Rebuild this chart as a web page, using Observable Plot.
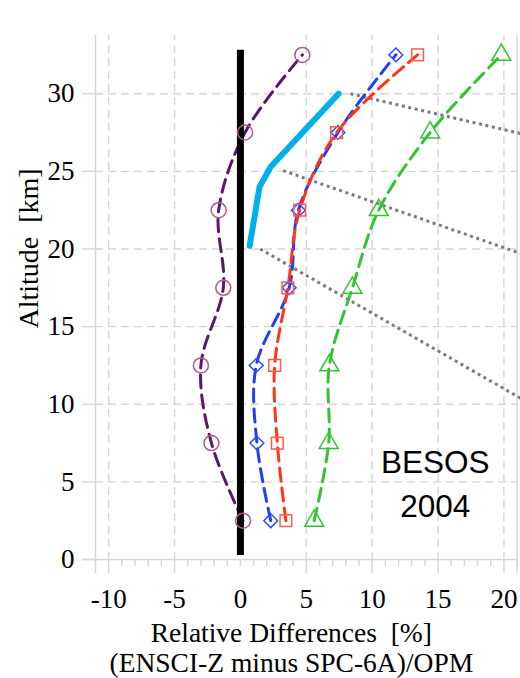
<!DOCTYPE html>
<html>
<head>
<meta charset="utf-8">
<script src="https://cdn.jsdelivr.net/npm/d3@7"></script>
<script src="https://cdn.jsdelivr.net/npm/@observablehq/plot@0.6"></script>
<style>
  html, body { margin: 0; padding: 0; background: #fff; }
  #chart svg { display: block; }
  #chart svg text { white-space: pre; }
</style>
</head>
<body>
<div id="chart"></div>
<script>
// Altitude bins (km) of the averaged profiles
const altitude = [2.5, 7.5, 12.5, 17.5, 22.5, 27.5, 32.5];

// Relative differences (%) per sonde configuration
const circleDiff  = [0.2, -2.2, -3.0, -1.3, -1.65, 0.35, 4.7];
const diamondDiff = [2.3, 1.25, 1.2, 3.7, 4.4, 7.4, 11.8];
const squareDiff  = [3.45, 2.8, 2.6, 3.6, 4.5, 7.3, 13.45];
const triangleDiff = [5.6, 6.7, 6.75, 8.5, 10.5, 14.4, 19.8];

// Thick cyan reference profile
const cyanDiff = [0.7, 1.45, 2.3, 7.45];
const cyanAlt  = [20.2, 24.0, 25.3, 30.0];

// Zero line extent (km)
const zeroAlt = [0.25, 32.8];

// Dotted guide lines (start / end)
const guideX1 = [8.35, 3.24, 1.5];
const guideY1 = [30.0, 25.05, 20.0];
const guideX2 = [21.3, 21.3, 21.3];
const guideY2 = [27.43, 19.7, 10.37];

// Axes
const xTicks = [-10, -5, 0, 5, 10, 15, 20];
const yTicks = [0, 5, 10, 15, 20, 25, 30];
const xMinorTicks = [-11, -10, -9, -8, -7, -6, -5, -4, -3, -2, -1, 0, 1, 2, 3, 4, 5, 6, 7, 8, 9, 10,
  11, 12, 13, 14, 15, 16, 17, 18, 19, 20, 21];
const xGrid = [-10, -5, 5, 10, 15, 20];
const yGrid = [5, 10, 15, 20, 25, 30];

const xTitle = "Relative Differences  [%]";
const xSubtitle = "(ENSCI-Z minus SPC-6A)/OPM";
const yTitle = "Altitude  [km]";
const campaign = "BESOS\n2004";

const series = [
  {key: "circle",   values: circleDiff,   line: "#5a176c", marker: "#b5588c", symbol: "circle",   r: 7.5},
  {key: "diamond",  values: diamondDiff,  line: "#1f3cff", marker: "#2d4cff", symbol: "diamond2", r: 6.2},
  {key: "square",   values: squareDiff,   line: "#ff3515", marker: "#ff5a50", symbol: "square",   r: 6.6},
  {key: "triangle", values: triangleDiff, line: "#33c333", marker: "#33c333", symbol: "triangle", r: 7}
];

const rowsFor = s => altitude.map((a, i) => ({alt: a, diff: s.values[i]}));
const cyanRows = cyanDiff.map((d, i) => ({diff: d, alt: cyanAlt[i]}));
const guides = guideX1.map((x, i) => ({x1: x, y1: guideY1[i], x2: guideX2[i], y2: guideY2[i]}));

const gridColor = "#d6d6d6";
const serif = "Liberation Serif, Times New Roman, serif";
const fmt = d => String(d);

const chart = Plot.plot({
  width: 520,
  height: 678,
  marginTop: 35,
  marginBottom: 119,
  marginLeft: 95,
  marginRight: 3.4,
  style: {fontFamily: serif, background: "#fff", color: "#000"},
  x: {domain: [-11, 21], label: null},
  y: {domain: [0, 33.75], label: null},
  marks: [
    // dashed grid
    Plot.ruleX(xGrid, {y1: -0.9, y2: 33.75, stroke: gridColor, strokeWidth: 1.4, strokeDasharray: "8,5"}),
    Plot.ruleY(yGrid, {x1: -11, x2: 21, stroke: gridColor, strokeWidth: 1.4, strokeDasharray: "8,5"}),
    // y tick stubs
    Plot.ruleY(yTicks, {x1: -12, x2: -11, stroke: gridColor, strokeWidth: 1.4}),
    // frame
    Plot.ruleX([-11, 21], {y1: -0.9, y2: 33.75, stroke: gridColor, strokeWidth: 1.4}),
    Plot.ruleY([0], {x1: -12, x2: 21, stroke: gridColor, strokeWidth: 1.6}),
    // minor x ticks
    Plot.ruleX(xMinorTicks, {y1: 0, y2: -0.45, stroke: gridColor, strokeWidth: 1.4}),
    // tick labels
    Plot.axisX(xTicks, {tickSize: 0, tickPadding: 29, fontSize: 27, tickFormat: fmt, label: null}),
    Plot.axisY(yTicks, {tickSize: 0, tickPadding: 21, fontSize: 27, tickFormat: fmt, label: null}),
    // dotted guides
    Plot.link(guides, {x1: "x1", y1: "y1", x2: "x2", y2: "y2", stroke: "#7b7b7b", strokeWidth: 3, strokeDasharray: "3,3.6"}),
    // difference profiles
    ...series.map(s => Plot.line(rowsFor(s), {
      x: "diff", y: "alt", stroke: s.line, strokeWidth: 3, strokeDasharray: "13,7", curve: "catmull-rom"
    })),
    // cyan profile
    Plot.line(cyanRows, {x: "diff", y: "alt", stroke: "#00b0ea", strokeWidth: 6}),
    // zero line
    Plot.ruleX([0], {y1: zeroAlt[0], y2: zeroAlt[1], stroke: "#000", strokeWidth: 7}),
    // markers
    ...series.map(s => Plot.dot(rowsFor(s), {
      x: "diff", y: "alt", symbol: s.symbol, r: s.r, stroke: s.marker, strokeWidth: 1.5, fill: "none"
    })),
    // campaign label
    Plot.text([campaign], {
      text: d => d, frameAnchor: "bottom", dx: 129, dy: -42.5, textAnchor: "middle",
      lineAnchor: "bottom", lineHeight: 1.39, fontSize: 31.5, fontFamily: "Liberation Sans, Arial, sans-serif", fill: "#000"
    }),
    // axis titles
    Plot.text([xTitle], {text: d => d, frameAnchor: "bottom", dx: -15, dy: 82, textAnchor: "middle", lineAnchor: "bottom", fontSize: 27.5}),
    Plot.text([xSubtitle], {text: d => d, frameAnchor: "bottom", dx: -15, dy: 112, textAnchor: "middle", lineAnchor: "bottom", fontSize: 27.5}),
    Plot.text([yTitle], {text: d => d, frameAnchor: "left", dx: -58, dy: -49, rotate: -90, textAnchor: "middle", lineAnchor: "bottom", fontSize: 28})
  ]
});

document.getElementById("chart").appendChild(chart);
</script>
</body>
</html>
